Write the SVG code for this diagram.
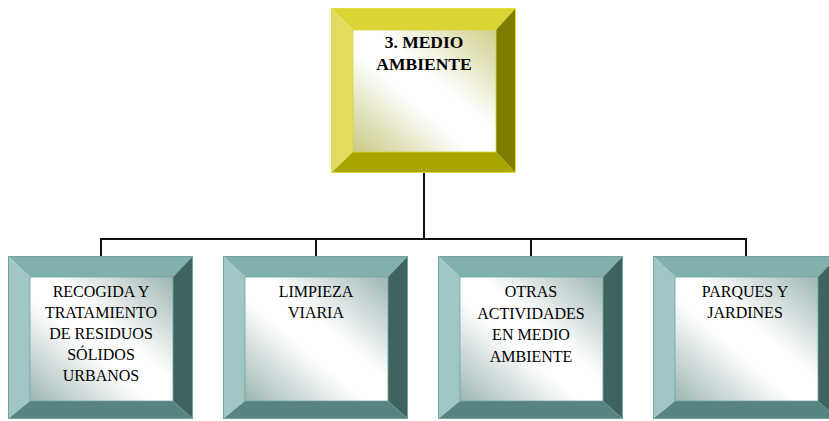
<svg xmlns="http://www.w3.org/2000/svg" xmlns:xlink="http://www.w3.org/1999/xlink" width="829" height="421" viewBox="0 0 829 421">
<style>
.t{font-family:"Liberation Serif","Times New Roman",serif;font-size:16px;fill:#000;text-anchor:middle}
.tb{font-family:"Liberation Serif","Times New Roman",serif;font-size:17.5px;font-weight:bold;fill:#000;text-anchor:middle}
.c{stroke:#111;stroke-width:2;fill:none}
</style>
<defs>
<linearGradient id="gTeal" x1="1" y1="0" x2="0" y2="1">
<stop offset="0" stop-color="#9db6b4"/>
<stop offset="0.42" stop-color="#ffffff"/>
<stop offset="0.58" stop-color="#ffffff"/>
<stop offset="1" stop-color="#9db6b4"/>
</linearGradient>
<linearGradient id="gYel" x1="1" y1="0" x2="0" y2="1">
<stop offset="0" stop-color="#cfcf8a"/>
<stop offset="0.42" stop-color="#ffffff"/>
<stop offset="0.58" stop-color="#ffffff"/>
<stop offset="1" stop-color="#c8c882"/>
</linearGradient>
<g id="tealFrame">
<polygon points="0,0 185,0 165,21 22,21" fill="#82b0ac"/>
<polygon points="0,0 22,21 22,145 0,163" fill="#a0c7c5"/>
<polygon points="185,0 185,163 165,145 165,21" fill="#3f6361"/>
<polygon points="0,163 22,145 165,145 185,163" fill="#558481"/>
<rect x="22" y="21" width="143" height="124" fill="url(#gTeal)" stroke="#6fa5a2" stroke-width="0.8"/>
<rect x="0.5" y="0.5" width="184" height="162" fill="none" stroke="#6fa5a2" stroke-width="1"/>
</g>
</defs>
<g id="connectors">
<line class="c" x1="424" y1="173" x2="424" y2="239"/>
<line class="c" x1="101" y1="239" x2="746" y2="239"/>
<line class="c" x1="101" y1="238" x2="101" y2="256"/>
<line class="c" x1="316" y1="238" x2="316" y2="256"/>
<line class="c" x1="531" y1="238" x2="531" y2="256"/>
<line class="c" x1="746" y1="238" x2="746" y2="256"/>
</g>
<g id="root">
<polygon points="331,8 516,8 496,30 353,30" fill="#d8d535"/>
<polygon points="331,8 353,30 353,152 331,173" fill="#e0dc60"/>
<polygon points="516,8 516,173 496,152 496,30" fill="#7f7d00"/>
<polygon points="331,173 353,152 496,152 516,173" fill="#a8a500"/>
<rect x="353" y="30" width="143" height="122" fill="url(#gYel)" stroke="#d8d540" stroke-width="0.8"/>
<rect x="331.5" y="8.5" width="184" height="164" fill="none" stroke="#e0e040" stroke-width="1"/>
<text class="tb" x="424" y="48">3. MEDIO</text>
<text class="tb" x="424" y="70">AMBIENTE</text>
</g>
<g id="n1">
<use xlink:href="#tealFrame" href="#tealFrame" x="8" y="256"/>
<text class="t" x="101" y="297">RECOGIDA Y</text>
<text class="t" x="101" y="318">TRATAMIENTO</text>
<text class="t" x="101" y="339">DE RESIDUOS</text>
<text class="t" x="101" y="359.5">SÓLIDOS</text>
<text class="t" x="101" y="380.5">URBANOS</text>
</g>
<g id="n2">
<use xlink:href="#tealFrame" href="#tealFrame" x="223" y="256"/>
<text class="t" x="316" y="297">LIMPIEZA</text>
<text class="t" x="316" y="318">VIARIA</text>
</g>
<g id="n3">
<use xlink:href="#tealFrame" href="#tealFrame" x="438" y="256"/>
<text class="t" x="531" y="297">OTRAS</text>
<text class="t" x="531" y="318.5">ACTIVIDADES</text>
<text class="t" x="531" y="340">EN MEDIO</text>
<text class="t" x="531" y="361.5">AMBIENTE</text>
</g>
<g id="n4">
<use xlink:href="#tealFrame" href="#tealFrame" x="653" y="256"/>
<text class="t" x="745" y="297">PARQUES Y</text>
<text class="t" x="745" y="318">JARDINES</text>
</g>
</svg>
